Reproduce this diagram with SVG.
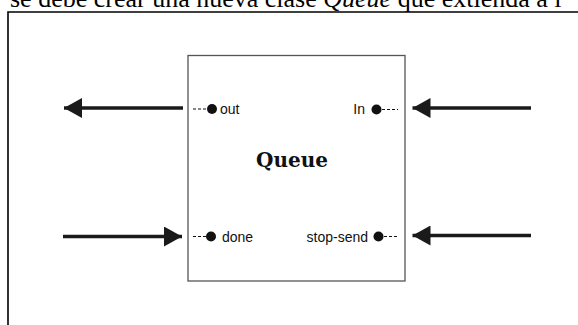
<svg xmlns="http://www.w3.org/2000/svg" width="578" height="325" viewBox="0 0 578 325">
  <style>
    .frame { fill: none; stroke: #000; stroke-width: 1.6; }
    .box { fill: #fff; stroke: #555; stroke-width: 1.3; }
    .shaft { stroke: #1a1a1a; stroke-width: 3.4; fill: none; }
    .lead { stroke: #111; stroke-width: 1.2; stroke-dasharray: 3 2; fill: none; }
    .dot { fill: #111; }
    .port { font-family: "Liberation Sans", Arial, sans-serif; font-size: 14px; fill: #111; }
    .title { font-family: "DejaVu Serif", serif; font-weight: bold; font-size: 20px; fill: #111; }
    .caption { font-family: "Liberation Serif", "Times New Roman", serif; font-size: 26px; fill: #000; }
  </style>
  <defs>
    <marker id="head" viewBox="0 0 18 20" refX="18" refY="10" markerWidth="18" markerHeight="20" markerUnits="userSpaceOnUse" orient="auto">
      <path d="M0,0 L18,10 L0,20 Z" fill="#1a1a1a"/>
    </marker>
  </defs>

  <rect width="578" height="325" fill="#fff"/>

  <!-- running text above the figure -->
  <text class="caption" x="10" y="7">se debe crear una nueva clase <tspan font-style="italic">Queue</tspan> que extienda a l</text>

  <!-- outer frame (open to the right and bottom) -->
  <path class="frame" d="M8,326 V12 H579"/>

  <g id="queue">
    <rect class="box" x="188" y="55.5" width="217" height="225.5"/>
    <text class="title" x="292" y="167" text-anchor="middle">Queue</text>
  </g>

  <g id="port-out">
    <line class="lead" x1="193" y1="109" x2="207" y2="109"/>
    <circle class="dot" cx="212" cy="109" r="5"/>
    <text class="port" x="220" y="114">out</text>
  </g>

  <g id="port-in">
    <text class="port" x="365" y="114" text-anchor="end">In</text>
    <circle class="dot" cx="376.5" cy="109.5" r="5"/>
    <line class="lead" x1="382" y1="109.5" x2="398" y2="109.5"/>
  </g>

  <g id="port-done">
    <line class="lead" x1="193" y1="236.5" x2="206" y2="236.5"/>
    <circle class="dot" cx="211" cy="236.5" r="5"/>
    <text class="port" x="222" y="242">done</text>
  </g>

  <g id="port-stop-send">
    <text class="port" x="368" y="242" text-anchor="end">stop-send</text>
    <circle class="dot" cx="378.5" cy="236.5" r="5"/>
    <line class="lead" x1="384" y1="236.5" x2="398" y2="236.5"/>
  </g>

  <g id="connectors">
    <line class="shaft" x1="183" y1="108" x2="64" y2="108" marker-end="url(#head)"/>
    <line class="shaft" x1="63" y1="236.5" x2="182" y2="236.5" marker-end="url(#head)"/>
    <line class="shaft" x1="531" y1="108" x2="412.5" y2="108" marker-end="url(#head)"/>
    <line class="shaft" x1="531" y1="235.5" x2="412.5" y2="235.5" marker-end="url(#head)"/>
  </g>
</svg>
